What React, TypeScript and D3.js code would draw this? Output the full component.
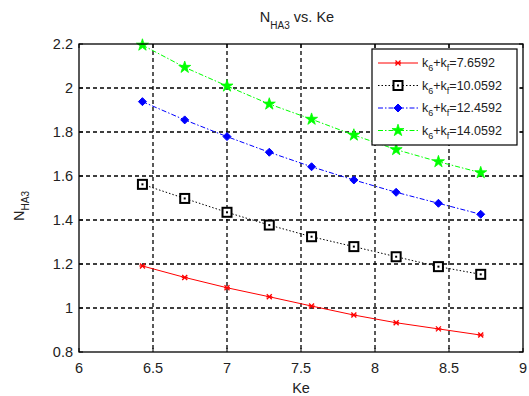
import React from "react";
import * as d3 from "d3";

const keValues = [6.4286, 6.7143, 7.0, 7.2857, 7.5714, 7.8571, 8.1429, 8.4286, 8.7143];
const series1 = [1.191, 1.139, 1.092, 1.051, 1.009, 0.968, 0.933, 0.905, 0.877];
const series2 = [1.562, 1.498, 1.435, 1.377, 1.324, 1.279, 1.233, 1.188, 1.153];
const series3 = [1.938, 1.855, 1.779, 1.708, 1.642, 1.582, 1.526, 1.476, 1.426];
const series4 = [2.195, 2.094, 2.009, 1.927, 1.858, 1.786, 1.72, 1.665, 1.615];
const legendValues = ["=7.6592", "=10.0592", "=12.4592", "=14.0592"];
const xTicks = [6, 6.5, 7, 7.5, 8, 8.5, 9];
const yTicks = [0.8, 1, 1.2, 1.4, 1.6, 1.8, 2, 2.2];

const FONT = "'Liberation Sans', Arial, sans-serif";

const styles = [
  { color: "#ff0000", dash: "", marker: "x" },
  { color: "#000000", dash: "1.5,2", marker: "square" },
  { color: "#0000ff", dash: "5,2,1.5,2", marker: "diamond" },
  { color: "#00ff00", dash: "5,2,1.5,2", marker: "star" },
];

function Marker({ type, x, y, color }: { type: string; x: number; y: number; color: string }) {
  if (type === "x") {
    return (
      <g stroke={color} strokeWidth={1.3}>
        <line x1={x - 2.5} y1={y - 2.5} x2={x + 2.5} y2={y + 2.5} />
        <line x1={x - 2.5} y1={y + 2.5} x2={x + 2.5} y2={y - 2.5} />
        <line x1={x - 3} y1={y} x2={x + 3} y2={y} />
      </g>
    );
  }
  if (type === "square") {
    return (
      <g>
        <rect x={x - 4.5} y={y - 4.5} width={9} height={9} fill="#fff" stroke={color} strokeWidth={2} />
        <rect x={x - 1} y={y - 1} width={2} height={2} fill={color} />
      </g>
    );
  }
  if (type === "diamond") {
    const s = 4;
    return (
      <path
        d={`M${x},${y - s}L${x + s},${y}L${x},${y + s}L${x - s},${y}Z`}
        fill={color}
        stroke={color}
        strokeWidth={1}
      />
    );
  }
  const sym = d3.symbol().type(d3.symbolStar).size(45)();
  return <path d={sym || ""} transform={`translate(${x},${y})`} fill={color} stroke={color} strokeWidth={0.8} />;
}

export default function App() {
  const W = 529;
  const H = 396;
  const left = 79, right = 523, top = 44, bottom = 352;
  const x = d3.scaleLinear().domain([6, 9]).range([left, right]);
  const y = d3.scaleLinear().domain([0.8, 2.2]).range([bottom, top]);
  const line = d3
    .line<number>()
    .x((_, i) => x(keValues[i]))
    .y((d) => y(d));
  const allSeries = [series1, series2, series3, series4];

  const legX = 372, legY = 49, legW = 145, legH = 96;
  const rowY = (i: number) => legY + 14 + i * 22.5;

  return (
    <svg width={W} height={H} style={{ position: "absolute", left: 0, top: 0, background: "#fff" }} fontFamily={FONT}>
      <rect x={0} y={0} width={W} height={H} fill="#fff" />
      {/* grid */}
      <g stroke="#000" strokeWidth={1.3} strokeDasharray="4,3">
        {xTicks.slice(1, -1).map((t) => (
          <line key={"gx" + t} x1={x(t)} x2={x(t)} y1={top} y2={bottom} />
        ))}
        {yTicks.slice(1, -1).map((t) => (
          <line key={"gy" + t} x1={left} x2={right} y1={y(t)} y2={y(t)} />
        ))}
      </g>
      {/* series */}
      {allSeries.map((s, si) => (
        <g key={"s" + si}>
          <path d={line(s) || ""} fill="none" stroke={styles[si].color} strokeWidth={1} strokeDasharray={styles[si].dash} />
          {s.map((v, i) => (
            <Marker key={i} type={styles[si].marker} x={x(keValues[i])} y={y(v)} color={styles[si].color} />
          ))}
        </g>
      ))}
      {/* axes box */}
      <rect x={left} y={top} width={right - left} height={bottom - top} fill="none" stroke="#000" strokeWidth={1.3} />
      {/* ticks */}
      <g stroke="#000" strokeWidth={1}>
        {xTicks.map((t) => (
          <g key={"tx" + t}>
            <line x1={x(t)} x2={x(t)} y1={bottom} y2={bottom - 4} />
            <line x1={x(t)} x2={x(t)} y1={top} y2={top + 4} />
          </g>
        ))}
        {yTicks.map((t) => (
          <g key={"ty" + t}>
            <line x1={left} x2={left + 4} y1={y(t)} y2={y(t)} />
            <line x1={right} x2={right - 4} y1={y(t)} y2={y(t)} />
          </g>
        ))}
      </g>
      {/* tick labels */}
      <g fontSize={14.5} fill="#222">
        {xTicks.map((t) => (
          <text key={"lx" + t} x={x(t)} y={373} textAnchor="middle">
            {String(t)}
          </text>
        ))}
        {yTicks.map((t) => (
          <text key={"ly" + t} x={73} y={y(t) + 5} textAnchor="end">
            {String(t)}
          </text>
        ))}
      </g>
      {/* axis labels */}
      <text x={(left + right) / 2} y={393} textAnchor="middle" fontSize={14.5} fill="#222">
        Ke
      </text>
      <text transform={`translate(24,${(top + bottom) / 2 + 8}) rotate(-90)`} textAnchor="middle" fontSize={14.5} fill="#222">
        N<tspan fontSize={10} dy={5}>HA3</tspan>
      </text>
      {/* title */}
      <text x={(left + right) / 2 - 4} y={22} textAnchor="middle" fontSize={14.5} fill="#222">
        N<tspan fontSize={10} dy={7}>HA3</tspan>
        <tspan dy={-7}> vs. Ke</tspan>
      </text>
      {/* legend */}
      <rect x={legX} y={legY} width={legW} height={legH} fill="#fff" stroke="#000" strokeWidth={1.2} />
      {legendValues.map((lv, i) => (
        <g key={"leg" + i}>
          <line x1={378} x2={418} y1={rowY(i)} y2={rowY(i)} stroke={styles[i].color} strokeWidth={1} strokeDasharray={styles[i].dash} />
          <Marker type={styles[i].marker} x={398} y={rowY(i)} color={styles[i].color} />
          <text x={422} y={rowY(i) + 4} fontSize={12.5} fill="#222">
            k<tspan fontSize={9} dy={4}>6</tspan>
            <tspan dy={-4}>+k</tspan>
            <tspan fontSize={9} dy={4}>f</tspan>
            <tspan dy={-4}>{lv}</tspan>
          </text>
        </g>
      ))}
    </svg>
  );
}
